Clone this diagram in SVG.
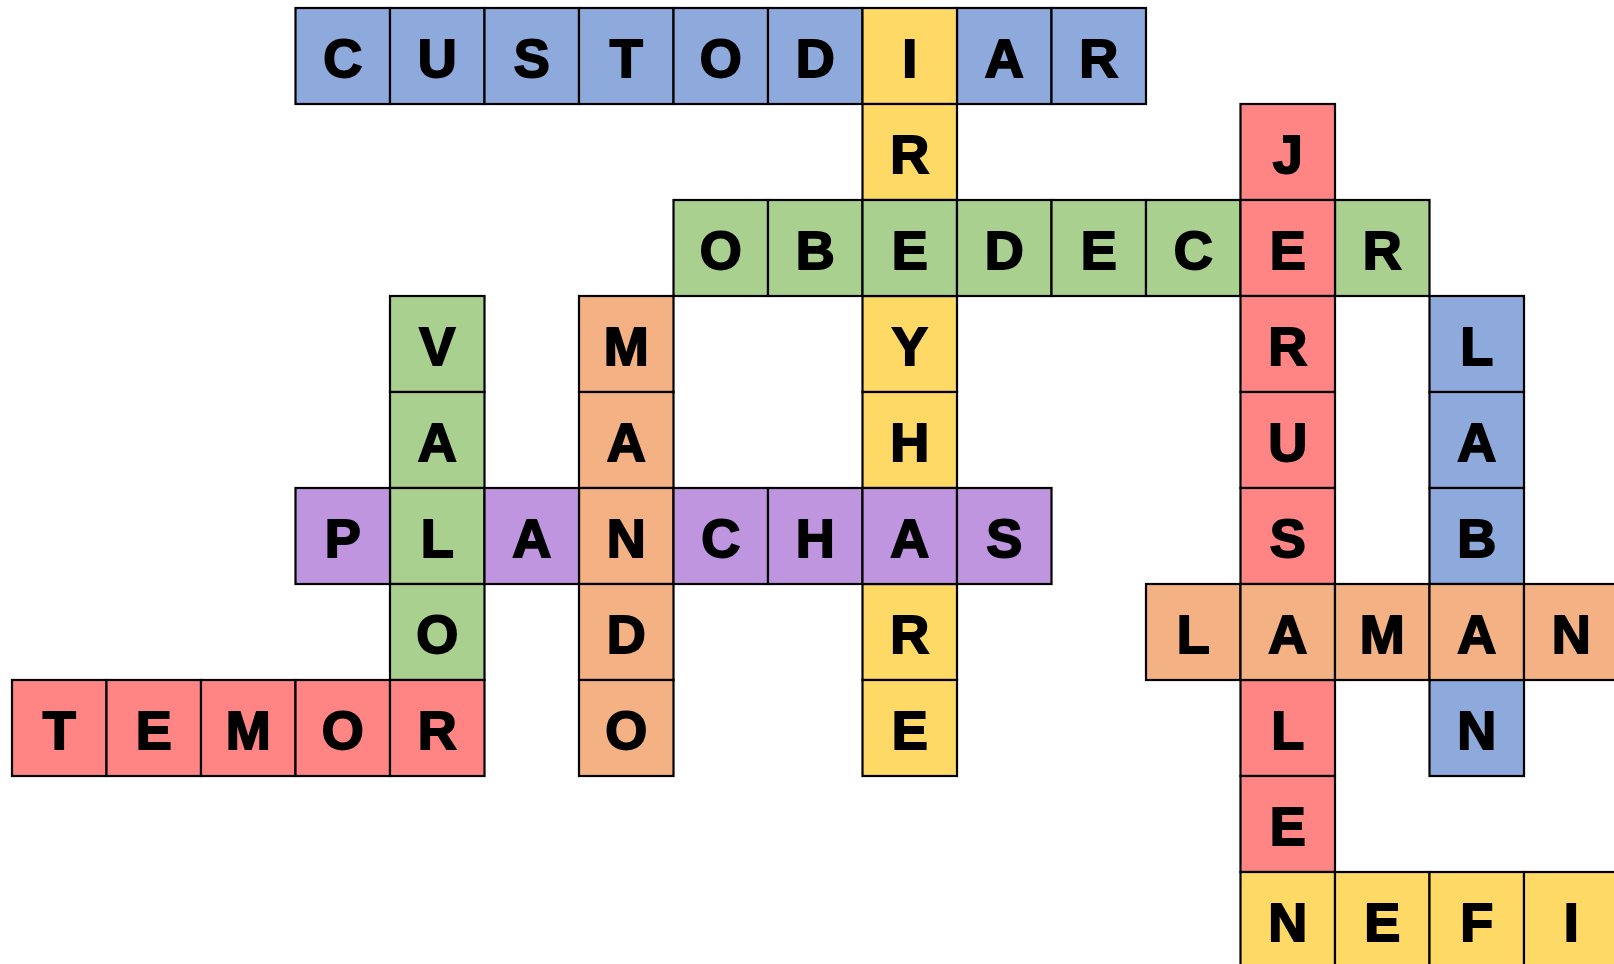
<svg xmlns="http://www.w3.org/2000/svg" width="1614" height="964" viewBox="0 0 1614 964">
<style>
rect{stroke:#000;stroke-width:2.2;width:94.5px;height:96px}
.b{fill:#8EA9DB}.y{fill:#FFD966}.g{fill:#A9D08E}.r{fill:#FF8585}.o{fill:#F4B183}.p{fill:#BF95DF}
text{font-family:"Liberation Sans",Arial,sans-serif;font-weight:bold;font-size:54px;text-anchor:middle;fill:#000;stroke:#000;stroke-width:1.9}
</style>
<rect x="0" y="0" width="1614" height="964" style="fill:#fff;stroke:none;width:1614px;height:964px"/>
<g id="custodiar">
<rect class="b" x="295.5" y="8"/><text x="342.75" y="77">C</text>
<rect class="b" x="390" y="8"/><text x="437.25" y="77">U</text>
<rect class="b" x="484.5" y="8"/><text x="531.75" y="77">S</text>
<rect class="b" x="579" y="8"/><text x="626.25" y="77">T</text>
<rect class="b" x="673.5" y="8"/><text x="720.75" y="77">O</text>
<rect class="b" x="768" y="8"/><text x="815.25" y="77">D</text>
<rect class="b" x="957" y="8"/><text x="1004.25" y="77">A</text>
<rect class="b" x="1051.5" y="8"/><text x="1098.75" y="77">R</text>
</g>
<g id="col9">
<rect class="y" x="862.5" y="8"/><text x="909.75" y="77">I</text>
<rect class="y" x="862.5" y="104"/><text x="909.75" y="173">R</text>
<rect class="y" x="862.5" y="296"/><text x="909.75" y="365">Y</text>
<rect class="y" x="862.5" y="392"/><text x="909.75" y="461">H</text>
<rect class="y" x="862.5" y="584"/><text x="909.75" y="653">R</text>
<rect class="y" x="862.5" y="680"/><text x="909.75" y="749">E</text>
</g>
<g id="obedecer">
<rect class="g" x="673.5" y="200"/><text x="720.75" y="269">O</text>
<rect class="g" x="768" y="200"/><text x="815.25" y="269">B</text>
<rect class="g" x="862.5" y="200"/><text x="909.75" y="269">E</text>
<rect class="g" x="957" y="200"/><text x="1004.25" y="269">D</text>
<rect class="g" x="1051.5" y="200"/><text x="1098.75" y="269">E</text>
<rect class="g" x="1146" y="200"/><text x="1193.25" y="269">C</text>
<rect class="g" x="1335" y="200"/><text x="1382.25" y="269">R</text>
</g>
<g id="jerusalen">
<rect class="r" x="1240.5" y="104"/><text x="1287.75" y="173">J</text>
<rect class="r" x="1240.5" y="200"/><text x="1287.75" y="269">E</text>
<rect class="r" x="1240.5" y="296"/><text x="1287.75" y="365">R</text>
<rect class="r" x="1240.5" y="392"/><text x="1287.75" y="461">U</text>
<rect class="r" x="1240.5" y="488"/><text x="1287.75" y="557">S</text>
<rect class="r" x="1240.5" y="680"/><text x="1287.75" y="749">L</text>
<rect class="r" x="1240.5" y="776"/><text x="1287.75" y="845">E</text>
</g>
<g id="valor">
<rect class="g" x="390" y="296"/><text x="437.25" y="365">V</text>
<rect class="g" x="390" y="392"/><text x="437.25" y="461">A</text>
<rect class="g" x="390" y="488"/><text x="437.25" y="557">L</text>
<rect class="g" x="390" y="584"/><text x="437.25" y="653">O</text>
</g>
<g id="mando">
<rect class="o" x="579" y="296"/><text x="626.25" y="365">M</text>
<rect class="o" x="579" y="392"/><text x="626.25" y="461">A</text>
<rect class="o" x="579" y="488"/><text x="626.25" y="557">N</text>
<rect class="o" x="579" y="584"/><text x="626.25" y="653">D</text>
<rect class="o" x="579" y="680"/><text x="626.25" y="749">O</text>
</g>
<g id="planchas">
<rect class="p" x="295.5" y="488"/><text x="342.75" y="557">P</text>
<rect class="p" x="484.5" y="488"/><text x="531.75" y="557">A</text>
<rect class="p" x="673.5" y="488"/><text x="720.75" y="557">C</text>
<rect class="p" x="768" y="488"/><text x="815.25" y="557">H</text>
<rect class="p" x="862.5" y="488"/><text x="909.75" y="557">A</text>
<rect class="p" x="957" y="488"/><text x="1004.25" y="557">S</text>
</g>
<g id="laban">
<rect class="b" x="1429.5" y="296"/><text x="1476.75" y="365">L</text>
<rect class="b" x="1429.5" y="392"/><text x="1476.75" y="461">A</text>
<rect class="b" x="1429.5" y="488"/><text x="1476.75" y="557">B</text>
<rect class="b" x="1429.5" y="680"/><text x="1476.75" y="749">N</text>
</g>
<g id="laman">
<rect class="o" x="1146" y="584"/><text x="1193.25" y="653">L</text>
<rect class="o" x="1240.5" y="584"/><text x="1287.75" y="653">A</text>
<rect class="o" x="1335" y="584"/><text x="1382.25" y="653">M</text>
<rect class="o" x="1429.5" y="584"/><text x="1476.75" y="653">A</text>
<rect class="o" x="1524" y="584"/><text x="1571.25" y="653">N</text>
</g>
<g id="temor">
<rect class="r" x="12" y="680"/><text x="59.25" y="749">T</text>
<rect class="r" x="106.5" y="680"/><text x="153.75" y="749">E</text>
<rect class="r" x="201" y="680"/><text x="248.25" y="749">M</text>
<rect class="r" x="295.5" y="680"/><text x="342.75" y="749">O</text>
<rect class="r" x="390" y="680"/><text x="437.25" y="749">R</text>
</g>
<g id="nefi">
<rect class="y" x="1240.5" y="872"/><text x="1287.75" y="941">N</text>
<rect class="y" x="1335" y="872"/><text x="1382.25" y="941">E</text>
<rect class="y" x="1429.5" y="872"/><text x="1476.75" y="941">F</text>
<rect class="y" x="1524" y="872"/><text x="1571.25" y="941">I</text>
</g>
<g id="connectors"/>
</svg>
